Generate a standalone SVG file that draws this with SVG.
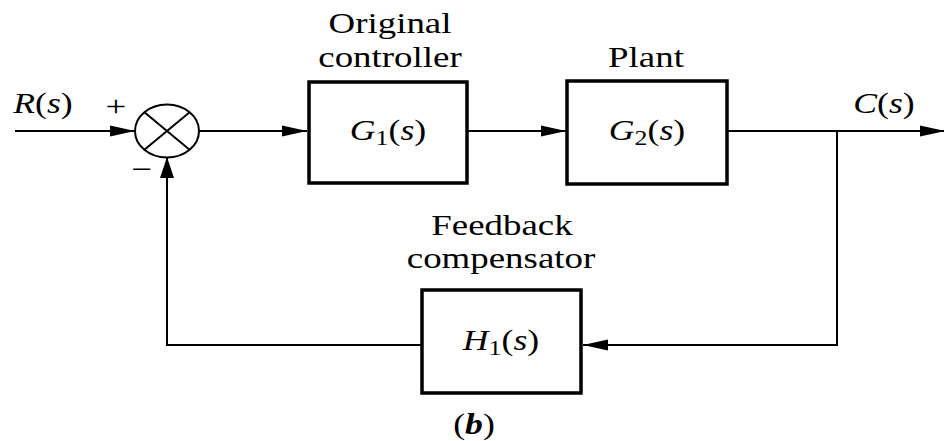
<svg xmlns="http://www.w3.org/2000/svg" width="944" height="441" viewBox="0 0 944 441">
<style>
  .box{fill:#fff;stroke:#000;stroke-width:3.5}
  .ln{fill:none;stroke:#000;stroke-width:2}
  text{font-family:"Liberation Serif","Times New Roman",serif;fill:#000}
  .lbl{font-size:30px}
  .math{font-size:29px}
  .it{font-style:italic}
  .sub{font-size:21px}
</style>
<defs>
  <marker id="ah" markerUnits="userSpaceOnUse" markerWidth="26" markerHeight="12" refX="25" refY="6" orient="auto" viewBox="0 0 26 12">
    <path d="M0,0.5 L25,6 L0,11.5 Z" fill="#000"/>
  </marker>
  <marker id="av" markerUnits="userSpaceOnUse" markerWidth="22" markerHeight="14" refX="21" refY="7" orient="auto" viewBox="0 0 22 14">
    <path d="M0,0 L21,7 L0,14 Z" fill="#000"/>
  </marker>
</defs>
<rect width="944" height="441" fill="#fff"/>

<g id="connectors">
  <path class="ln" d="M15,131 H135" marker-end="url(#ah)"/>
  <path class="ln" d="M199,131 H307" marker-end="url(#ah)"/>
  <path class="ln" d="M467,131 H566" marker-end="url(#ah)"/>
  <path class="ln" d="M727,131 H945" marker-end="url(#ah)"/>
  <path class="ln" d="M837,131 V345 H583" marker-end="url(#ah)"/>
  <path class="ln" d="M422,345 H167 V157" marker-end="url(#av)"/>
</g>

<g id="sum">
  <ellipse cx="167" cy="131" rx="32" ry="26.5" fill="#fff" stroke="#000" stroke-width="2"/>
  <path class="ln" d="M144.4,112.3 L189.6,149.7 M144.4,149.7 L189.6,112.3"/>
  <text transform="translate(116,116) scale(1.23,1)" text-anchor="middle" font-size="30">+</text>
  <text transform="translate(142,179) scale(1.23,1)" text-anchor="middle" font-size="30">−</text>
</g>

<g id="input">
  <text class="math" transform="translate(43,113) scale(1.23,1)" text-anchor="middle"><tspan class="it">R</tspan>(<tspan class="it">s</tspan>)</text>
</g>

<g id="output">
  <text class="math" transform="translate(884,113) scale(1.23,1)" text-anchor="middle"><tspan class="it">C</tspan>(<tspan class="it">s</tspan>)</text>
</g>

<g id="G1">
  <text class="lbl" transform="translate(390,33) scale(1.23,1)" text-anchor="middle">Original</text>
  <text class="lbl" transform="translate(390,67) scale(1.23,1)" text-anchor="middle">controller</text>
  <rect class="box" x="309" y="82" width="158" height="101"/>
  <text class="math" transform="translate(388,140) scale(1.23,1)" text-anchor="middle"><tspan class="it">G</tspan><tspan class="sub" dy="5">1</tspan><tspan dy="-5">(</tspan><tspan class="it">s</tspan>)</text>
</g>

<g id="G2">
  <text class="lbl" transform="translate(646,67) scale(1.23,1)" text-anchor="middle">Plant</text>
  <rect class="box" x="567" y="81" width="160" height="103"/>
  <text class="math" transform="translate(647,140) scale(1.23,1)" text-anchor="middle"><tspan class="it">G</tspan><tspan class="sub" dy="5">2</tspan><tspan dy="-5">(</tspan><tspan class="it">s</tspan>)</text>
</g>

<g id="H1">
  <text class="lbl" transform="translate(502,235) scale(1.23,1)" text-anchor="middle">Feedback</text>
  <text class="lbl" transform="translate(501,268) scale(1.23,1)" text-anchor="middle">compensator</text>
  <rect class="box" x="422" y="290" width="159" height="103"/>
  <text class="math" transform="translate(501,350) scale(1.23,1)" text-anchor="middle"><tspan class="it">H</tspan><tspan class="sub" dy="5">1</tspan><tspan dy="-5">(</tspan><tspan class="it">s</tspan>)</text>
</g>

<g id="caption">
  <text class="math" transform="translate(474,434) scale(1.23,1)" text-anchor="middle">(<tspan font-weight="bold" font-style="italic">b</tspan>)</text>
</g>
</svg>
